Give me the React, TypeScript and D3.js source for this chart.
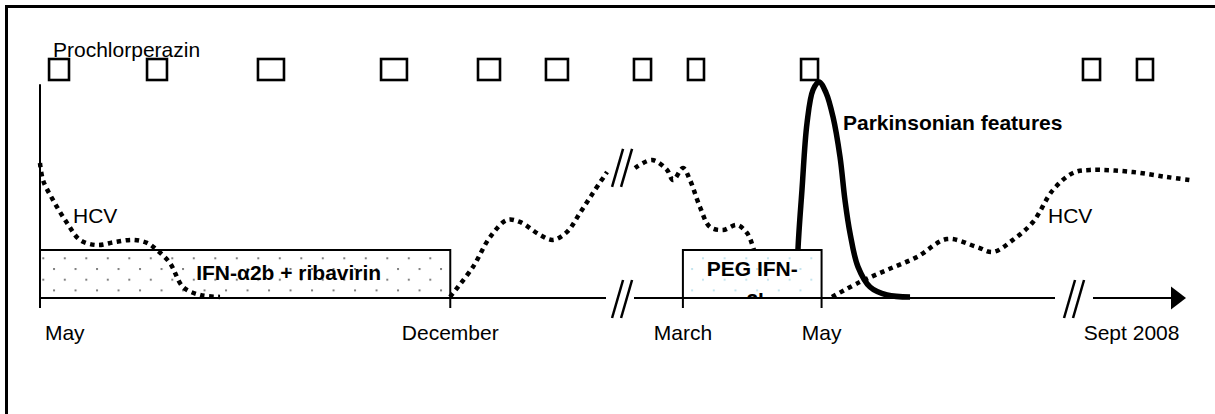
import React from 'react';
import * as d3 from 'd3';

// ---- data (time in arbitrary timeline units: 0 = first May, 100 = arrow tip; level 0-100) ----
const tickLabels = ['May', 'December', 'March', 'May', 'Sept 2008'];
const tickLabelPos = [2.16, 35.8, 56.1, 68.2, 95.25];
const tickMarks = [0, 35.8, 56.1, 68.2];
const axisBreakPos = [50.79, 90.23];

const treatmentLabels = ['IFN-α2b + ribavirin', 'PEG IFN-α2b'];
const treatmentStart = [0, 56.1];
const treatmentEnd = [35.8, 68.2];

const doseStart = [0.79, 9.34, 19.02, 29.76, 38.22, 44.15, 51.83, 56.54, 66.41, 91.01, 95.72];
const doseEnd = [2.53, 11.08, 21.29, 32.02, 40.14, 46.07, 53.32, 57.94, 67.89, 92.5, 97.12];

const hcv1: [number, number][] = [
  [0, 62.5], [0.26, 54.6], [1.13, 45.4], [2.36, 34.7], [3.49, 26.9], [4.97, 24.5],
  [6.54, 25.9], [8.12, 26.9], [9.34, 25.5], [10.21, 22.2], [11.34, 16.2], [12.48, 5.1],
  [13.96, 1.4], [15.71, 0.5],
];
const hcv2: [number, number][] = [
  [35.78, 0.5], [37.78, 14.4], [39.27, 28.2], [40.75, 36.1], [41.88, 35.2], [43.63, 29.2],
  [44.76, 26.9], [45.99, 30.6], [47.12, 39.4], [48.25, 48.6], [49.48, 58.3],
];
const hcv3: [number, number][] = [
  [51.92, 60.2], [53.4, 63.9], [54.71, 59.3], [55.24, 54.6], [56.11, 60.2], [56.72, 54.6],
  [57.59, 42.1], [58.46, 32.9], [59.6, 31.5], [60.82, 33.8], [61.69, 30.1], [62.22, 23.6],
  [62.8, 12],
];
const hcv4: [number, number][] = [
  [69.11, 0.5], [71.55, 7.4], [73.91, 13], [76.53, 19], [79.14, 27.3], [81.76, 23.6],
  [83.16, 21.3], [84.9, 26.9], [86.65, 35.2], [88.39, 50], [90.14, 57.9], [91.62, 59.3],
  [95.38, 58.3], [98.34, 56], [100.35, 54.6],
];
const parkinsonian: [number, number][] = [
  [66.06, 0], [66.14, 22.2], [66.49, 50], [66.93, 81], [67.45, 96.3], [67.98, 100],
  [68.59, 95], [69.2, 83.8], [69.81, 65.3], [70.24, 45.4], [70.68, 30.1], [71.38, 14.4],
  [72.43, 5.1], [73.91, 1.4], [75.92, 0.5],
];
const hcvBreak: [number, number] = [50.79, 60.2];

const hcvLabelPos: [number, number][] = [[2.88, 34.7], [87.96, 34.7]];
const parkLabelPos: [number, number] = [70.07, 77.8];

// ---- layout ----
const W = 1215;
const H = 414;
const FONT = '"Liberation Sans", Arial, sans-serif';
const FS = 21;

export default function App() {
  const x = d3.scaleLinear().domain([0, 100]).range([40, 1186]);
  const y = d3.scaleLinear().domain([0, 100]).range([298, 82]);
  const axisY = y(0);
  const boxTop = 250;
  const doseTop = 59;
  const doseBottom = 80;
  const line = d3
    .line<[number, number]>()
    .x((d) => x(d[0]))
    .y((d) => y(d[1]))
    .curve(d3.curveCatmullRom.alpha(0.5));

  const gapHalf = [14, 19];
  const gapCenter = [620, 1074];
  const arrowBase = x(100) - 15;
  const axisSegs: [number, number][] = [
    [x(0), gapCenter[0] - gapHalf[0]],
    [gapCenter[0] + gapHalf[0], gapCenter[1] - gapHalf[1]],
    [gapCenter[1] + gapHalf[1], arrowBase + 2],
  ];

  const breakMark = (cx: number, cy: number, key: string) => (
    <g key={key}>
      {[-4.5, 4.5].map((o) => (
        <line
          key={o}
          x1={cx + o - 5.5}
          y1={cy + 19}
          x2={cx + o + 5.5}
          y2={cy - 19}
          stroke="#000"
          strokeWidth={2.5}
        />
      ))}
    </g>
  );

  const dotted = {
    fill: 'none',
    stroke: '#000',
    strokeWidth: 4.5,
    strokeDasharray: '4.5 4.5',
  };

  const pegMid = (x(treatmentStart[1]) + x(treatmentEnd[1])) / 2;

  return (
    <svg
      width={W}
      height={H}
      style={{ position: 'absolute', left: 0, top: 0, background: '#fff' }}
      fontFamily={FONT}
    >
      <defs>
        <pattern id="dotsGray" patternUnits="userSpaceOnUse" x={42.3} y={257.3} width={21.5} height={21.4}>
          <rect x={0} y={0} width={2} height={2} fill="#808080" />
          <rect x={10.75} y={10.7} width={2} height={2} fill="#808080" />
        </pattern>
        <pattern id="dotsBlue" patternUnits="userSpaceOnUse" x={680.3} y={257.3} width={21.67} height={21.4}>
          <rect x={0} y={0} width={2} height={2} fill="#c4e4ee" />
          <rect x={10.8} y={10.7} width={2} height={2} fill="#c4e4ee" />
        </pattern>
        <clipPath id="pegClip">
          <rect
            x={x(treatmentStart[1])}
            y={boxTop}
            width={x(treatmentEnd[1]) - x(treatmentStart[1])}
            height={axisY - boxTop - 1}
          />
        </clipPath>
      </defs>

      {/* frame */}
      <rect x={6.5} y={6.5} width={W + 20} height={H + 20} fill="#fff" stroke="#000" strokeWidth={3} />

      {/* Prochlorperazin doses */}
      <text x={53} y={57} fontSize={FS} fill="#000">Prochlorperazin</text>
      {doseStart.map((s, i) => (
        <rect
          key={i}
          x={x(s)}
          y={doseTop}
          width={x(doseEnd[i]) - x(s)}
          height={doseBottom - doseTop}
          fill="#fff"
          stroke="#000"
          strokeWidth={2.6}
        />
      ))}

      {/* vertical axis */}
      <line x1={x(0)} y1={y(0)} x2={x(0)} y2={y(99)} stroke="#000" strokeWidth={2} />

      {/* IFN box */}
      <rect
        x={x(treatmentStart[0])}
        y={boxTop}
        width={x(treatmentEnd[0]) - x(treatmentStart[0])}
        height={axisY - boxTop}
        fill="url(#dotsGray)"
        stroke="#000"
        strokeWidth={2}
      />
      <text x={x(21.7)} y={280} fontSize={FS} fontWeight="bold" textAnchor="middle" fill="#000">
        {treatmentLabels[0]}
      </text>

      {/* HCV */}
      {[hcv1, hcv2, hcv3, hcv4].map((seg, i) => (
        <path key={i} d={line(seg) || ''} {...dotted} />
      ))}
      {breakMark(x(hcvBreak[0]), y(hcvBreak[1]), 'hb')}
      {hcvLabelPos.map((p, i) => (
        <text key={i} x={x(p[0])} y={y(p[1])} fontSize={FS} fill="#000">HCV</text>
      ))}

      {/* Parkinsonian features */}
      <path d={line(parkinsonian) || ''} fill="none" stroke="#000" strokeWidth={5.5} />
      <text x={x(parkLabelPos[0])} y={y(parkLabelPos[1])} fontSize={FS} fontWeight="bold" fill="#000">
        Parkinsonian features
      </text>

      {/* PEG box */}
      <rect
        x={x(treatmentStart[1])}
        y={boxTop}
        width={x(treatmentEnd[1]) - x(treatmentStart[1])}
        height={axisY - boxTop}
        fill="#fff"
      />
      <rect
        x={x(treatmentStart[1])}
        y={boxTop}
        width={x(treatmentEnd[1]) - x(treatmentStart[1])}
        height={axisY - boxTop}
        fill="url(#dotsBlue)"
        stroke="#000"
        strokeWidth={2}
      />
      <g clipPath="url(#pegClip)">
        <text x={pegMid} y={276} fontSize={FS} fontWeight="bold" textAnchor="middle" fill="#000">
          <tspan x={pegMid}>PEG IFN-</tspan>
          <tspan x={pegMid} dy={32}>
            {treatmentLabels[1].replace('PEG IFN-', '')}
          </tspan>
        </text>
      </g>

      {/* time axis */}
      {axisSegs.map((s, i) => (
        <line key={i} x1={s[0]} y1={axisY} x2={s[1]} y2={axisY} stroke="#000" strokeWidth={2} />
      ))}
      <path
        d={`M${arrowBase},${axisY - 11.5}L${x(100)},${axisY}L${arrowBase},${axisY + 11.5}Z`}
        fill="#000"
      />
      {tickMarks.map((t, i) => (
        <line key={i} x1={x(t)} y1={axisY} x2={x(t)} y2={axisY + 10} stroke="#000" strokeWidth={2} />
      ))}
      {axisBreakPos.map((b, i) => breakMark(x(b), axisY + 1, 'ab' + i))}
      {tickLabels.map((l, i) => (
        <text key={i} x={x(tickLabelPos[i])} y={340} fontSize={FS} textAnchor="middle" fill="#000">
          {l}
        </text>
      ))}
    </svg>
  );
}
